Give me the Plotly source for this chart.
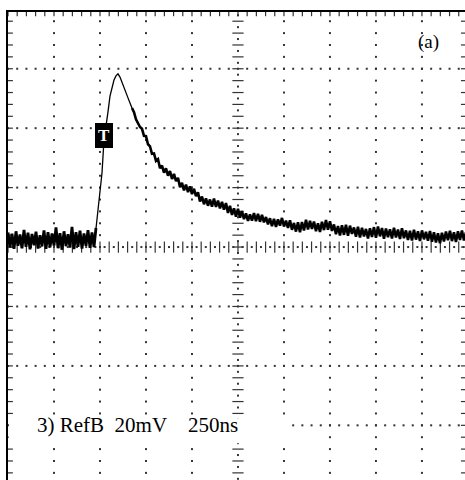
import numpy as np
import plotly.graph_objects as go

# ---- scope settings (from the on-screen readout) ----
NS_PER_DIV = 250      # 250ns / div
MV_PER_DIV = 20       # 20mV / div
SAMPLE_NS = 10.87     # sample interval of stored reference trace

# ---- reference trace B (mV) ----
baseline_mv = [4.9, -0.2, 4.5, -0.6, 5.3, 0.4, 4.2, -0.4, 5.8, 0.1,
               4.8, -0.8, 4.4, 0.6, 5.2, -0.5, 4.0, 0.2, 5.6, -0.6,
               5.0, -0.1, 4.6, 0.5, 6.6, -0.4, 4.7, -0.9, 5.3, 0.3,
               4.3, -0.2, 6.8, -0.7, 5.0, 0.1, 5.5, -0.5, 4.6, 0.4,
               5.7, -0.3, 4.9, 0.0]
rise_mv = [6.4, 11.8, 19.2, 24.9, 36.0, 40.1, 45.5, 50.8, 53.9, 56.2,
           57.6, 58.3, 57.2, 55.6, 53.5, 51.9, 50.2, 48.5]
decay_mv = [46.8, 45.4, 43.0, 41.6, 40.4, 39.8, 37.4, 37.3, 34.6, 33.9,
            31.4, 31.5, 29.0, 29.6, 26.5, 27.4, 25.0, 26.5, 24.0, 25.6,
            22.9, 24.6, 22.2, 23.3, 20.1, 21.6, 19.1, 21.0, 18.5, 20.4,
            17.8, 19.6, 17.1, 18.4, 15.3, 17.0, 14.4, 16.4, 13.9, 16.0,
            13.6, 16.3, 13.5, 15.6, 13.0, 15.2, 12.6, 14.8, 11.5, 13.9,
            10.8, 13.0, 10.2, 12.9, 9.9, 12.1, 9.4, 11.3, 8.8, 11.0,
            8.9, 11.4, 8.7, 11.2, 8.5, 10.8, 8.3, 10.1, 7.6, 9.7,
            7.0, 9.5, 6.8, 9.3, 7.2, 9.8, 6.9, 8.9, 6.4, 9.0,
            5.8, 8.1, 5.2, 8.3]
tail_mv = [5.0, 8.4, 5.6, 9.2, 5.9, 8.8, 6.1, 8.6, 5.3, 8.0,
           5.1, 8.5, 5.7, 9.1, 5.8, 8.7, 5.4, 7.6, 4.3, 7.1,
           3.9, 7.3, 4.1, 7.5, 3.8, 7.2, 4.4, 6.6, 3.5, 6.8,
           3.2, 6.5, 3.6, 6.1, 2.9, 6.3, 3.4, 6.7, 3.1, 6.9,
           3.6, 6.4, 2.8, 6.2, 3.3, 6.0, 2.9, 6.5, 3.2, 5.9,
           2.7, 6.3, 3.0, 5.6, 2.4, 5.5, 2.2, 5.8, 2.5, 5.3,
           2.0, 5.6, 2.6, 5.1, 2.1, 5.4, 1.8, 5.0, 1.5, 4.6,
           1.3, 4.8, 1.9, 5.2, 2.3, 5.5, 2.0, 5.0, 1.7, 5.3,
           2.4, 5.6, 2.2, 5.0]

trace_mv = np.array(baseline_mv + rise_mv + decay_mv + tail_mv)
trace_ns = np.arange(len(trace_mv)) * SAMPLE_NS

READOUT = "3)\u00a0RefB\u00a0\u00a020mV\u00a0\u00a0\u00a0\u00a0250ns"
PANEL = "(a)"
SERIF = "Liberation Serif, Times New Roman, DejaVu Serif, serif"

# ---- visible window (screen is cropped at right/bottom) ----
X_RANGE = [0, 2484]
Y_RANGE = [-78.4, 79.1]

DOT = "#333333"
fig = go.Figure()

# graticule: dotted major lines
vx, vy = [], []
for k in range(1, 10):
    if k == 5:
        continue
    ys = np.arange(-80, 81, MV_PER_DIV / 5)
    vx += [k * NS_PER_DIV] * len(ys)
    vy += list(ys)
hx, hy = [], []
for m in (-3, -2, -1, 1, 2, 3):
    xs = np.arange(0, 2500, NS_PER_DIV / 5)
    hx += list(xs)
    hy += [m * MV_PER_DIV] * len(xs)
fig.add_trace(go.Scatter(x=vx + hx, y=vy + hy, mode="markers",
                         marker=dict(symbol="square", size=2, color=DOT, line=dict(width=0)),
                         hoverinfo="skip"))

# centre cross with minor ticks
cy = np.arange(-80, 81, MV_PER_DIV / 5)
fig.add_trace(go.Scatter(x=[5 * NS_PER_DIV] * len(cy), y=cy, mode="markers",
                         marker=dict(symbol="line-ew", size=8, line=dict(width=1.2, color=DOT)),
                         hoverinfo="skip"))
cy2 = cy + MV_PER_DIV / 10
fig.add_trace(go.Scatter(x=[5 * NS_PER_DIV] * len(cy2), y=cy2, mode="markers",
                         marker=dict(symbol="square", size=2, color=DOT, line=dict(width=0)),
                         hoverinfo="skip"))
cx = np.arange(0, 2501, NS_PER_DIV / 5)
fig.add_trace(go.Scatter(x=cx, y=[0] * len(cx), mode="markers",
                         marker=dict(symbol="line-ns", size=8, line=dict(width=1.2, color=DOT)),
                         hoverinfo="skip"))
cx2 = cx + NS_PER_DIV / 10
fig.add_trace(go.Scatter(x=cx2, y=[0] * len(cx2), mode="markers",
                         marker=dict(symbol="square", size=2, color=DOT, line=dict(width=0)),
                         hoverinfo="skip"))

# border ticks
fig.add_trace(go.Scatter(x=[0] * len(cy), y=cy, mode="markers",
                         marker=dict(symbol="line-ew", size=7, line=dict(width=1.2, color=DOT)),
                         hoverinfo="skip"))
fig.add_trace(go.Scatter(x=[2500] * len(cy), y=cy, mode="markers",
                         marker=dict(symbol="line-ew", size=10, line=dict(width=1.2, color=DOT)),
                         hoverinfo="skip"))
fig.add_trace(go.Scatter(x=cx, y=[Y_RANGE[1]] * len(cx), mode="markers",
                         marker=dict(symbol="line-ns", size=6, line=dict(width=1.2, color=DOT)),
                         hoverinfo="skip"))

# the waveform: noisy pre-trigger, thin fast edge, noisy decay
n0 = len(baseline_mv)
n1 = n0 + len(rise_mv)
segments = [(0, n0 + 1, 2.8), (n0 - 1, n1 + 1, 1.3), (n1, len(trace_mv), 2.6)]
for a, b, w in segments:
    fig.add_trace(go.Scatter(x=trace_ns[a:b], y=trace_mv[a:b], mode="lines",
                             line=dict(color="black", width=w), hoverinfo="skip"))

# white box behind readout text
fig.add_shape(type="rect", x0=5, x1=1533, y0=-66.0, y1=-57.6,
              fillcolor="white", line=dict(width=0), layer="above")

fig.add_annotation(x=147, y=-60, xanchor="left", yanchor="middle", text=READOUT,
                   showarrow=False, font=dict(family=SERIF, size=21, color="black"))
fig.add_annotation(x=2283, y=69, xanchor="center", yanchor="middle", text=PANEL,
                   showarrow=False, font=dict(family=SERIF, size=19, color="black"))
# trigger marker
fig.add_annotation(x=524, y=37.4, xanchor="center", yanchor="middle", text="<b>T</b>",
                   showarrow=False, bgcolor="black", bordercolor="black", borderpad=2,
                   font=dict(family=SERIF, size=17, color="white"))

fig.update_layout(
    width=465, height=480,
    margin=dict(l=8, r=0, t=12, b=0),
    paper_bgcolor="white", plot_bgcolor="white",
    showlegend=False,
    xaxis=dict(range=X_RANGE, showgrid=False, zeroline=False, showticklabels=False,
               ticks="", showline=True, linecolor="black", linewidth=2, side="top",
               fixedrange=True),
    yaxis=dict(range=Y_RANGE, showgrid=False, zeroline=False, showticklabels=False,
               ticks="", showline=True, linecolor="black", linewidth=2, side="left",
               fixedrange=True),
)
fig.write_html("out.html")
